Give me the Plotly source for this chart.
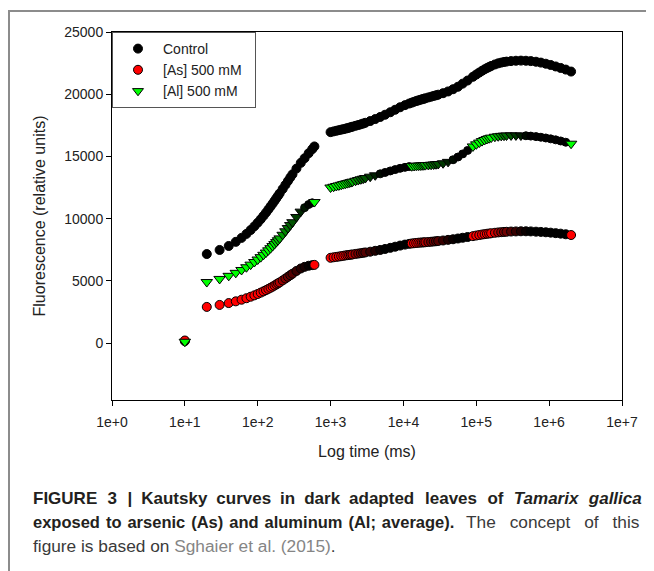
import math
import plotly.graph_objects as go

# ---------------- data ----------------
TIME_EARLY = [10, 20, 30, 40, 50, 60, 70, 80, 90, 100, 110, 120, 130, 140, 150, 160, 170, 180, 190, 200,
              220, 240, 260, 280, 300, 340, 390, 440, 500, 560, 600]
TIME_LATE = [1000, 1100, 1200, 1300, 1400, 1500, 1600, 1700, 1800, 1900, 2000, 2200, 2400, 2600, 2800, 3000,
             3500, 4100, 4800, 5600, 6600, 7700, 9000, 10500, 12000,
             13000, 14000, 15000, 16000, 17000, 18000, 19000, 20000, 22000, 24000, 26000, 28000, 30000,
             35000, 41000, 48000, 56000, 65000, 76000,
             90000, 100000, 110000, 120000, 130000, 140000, 150000, 160000, 180000, 200000, 220000, 240000, 260000,
             300000, 350000, 410000, 480000, 560000, 660000, 770000, 900000, 1050000, 1230000, 1440000, 1690000, 2000000]

CONTROL_EARLY = [150, 7150, 7480, 7800, 8130, 8450, 8770, 9080, 9380, 9670, 9950, 10220, 10480, 10730, 10970,
                 11200, 11420, 11630, 11830, 12020, 12380, 12710, 13020, 13300, 13560, 14020, 14480, 14850,
                 15250, 15580, 15800]
CONTROL_LATE = [16950, 17010, 17060, 17110, 17150, 17190, 17230, 17270, 17310, 17350, 17390, 17460, 17520, 17580,
                17640, 17700, 17840, 18000, 18170, 18350, 18550, 18750, 18950, 19120, 19250,
                19320, 19390, 19450, 19500, 19550, 19590, 19630, 19670, 19740, 19800, 19860, 19910, 19960,
                20080, 20220, 20400, 20600, 20850, 21100,
                21400, 21580, 21740, 21880, 22000, 22100, 22190, 22270, 22390, 22480, 22540, 22590, 22620,
                22660, 22690, 22700, 22690, 22660, 22610, 22540, 22450, 22350, 22230, 22110, 21980, 21820]

AS_EARLY = [200, 2900, 3060, 3210, 3350, 3480, 3600, 3720, 3830, 3940, 4050, 4150, 4250, 4350, 4440,
            4530, 4620, 4710, 4790, 4870, 5030, 5180, 5320, 5450, 5570, 5790, 5990, 6120, 6210, 6260, 6280]
AS_LATE = [6850, 6890, 6920, 6950, 6980, 7010, 7040, 7060, 7080, 7100, 7120, 7160, 7190, 7220, 7250, 7280,
           7340, 7410, 7480, 7560, 7650, 7740, 7830, 7910, 7970,
           8000, 8020, 8040, 8060, 8070, 8080, 8090, 8100, 8120, 8140, 8160, 8180, 8200,
           8240, 8290, 8340, 8400, 8460, 8520,
           8590, 8640, 8680, 8720, 8750, 8780, 8800, 8820, 8860, 8890, 8910, 8930, 8940,
           8960, 8970, 8980, 8980, 8970, 8950, 8930, 8900, 8870, 8830, 8790, 8740, 8680]

AL_EARLY = [100, 4900, 5150, 5400, 5640, 5870, 6090, 6300, 6510, 6710, 6900, 7090, 7270, 7450, 7620,
            7790, 7950, 8110, 8260, 8410, 8700, 8980, 9240, 9480, 9710, 10130, 10560, 10880, 11130, 11270, 11330]
AL_LATE = [12500, 12560, 12620, 12670, 12720, 12770, 12810, 12850, 12890, 12930, 12970, 13040, 13100, 13160,
           13210, 13260, 13370, 13480, 13600, 13710, 13830, 13940, 14040, 14120, 14180,
           14210, 14230, 14250, 14260, 14270, 14280, 14290, 14300, 14310, 14330, 14350, 14370, 14390,
           14450, 14560, 14730, 14950, 15200, 15480,
           15800, 15970, 16110, 16230, 16320, 16400, 16460, 16510, 16580, 16620, 16650, 16670, 16680,
           16690, 16690, 16680, 16660, 16630, 16590, 16540, 16480, 16410, 16330, 16240, 16140, 16020]

SERIES = ["Control", "[As] 500 mM", "[Al] 500 mM"]
X_TICKS = [1, 10, 100, 1000, 10000, 100000, 1000000, 10000000]
X_TICK_LABELS = ["1e+0", "1e+1", "1e+2", "1e+3", "1e+4", "1e+5", "1e+6", "1e+7"]
Y_TICKS = [0, 5000, 10000, 15000, 20000, 25000]

# ---------------- styling helpers ----------------
PX_PER_DECADE = 510 / 7.0


def overlap_factor(t):
    """How much of a marker's fill stays visible under the next (densely sampled) marker."""
    step = 10 if t < 1000 else 100 if t < 13000 else 1000 if t < 90000 else 10000
    s = PX_PER_DECADE * step / (t * math.log(10))
    return min(1.0, max(0.0, (s - 0.6) / 1.4))


def marker_style(times_segments, base_rgb, symbol, size):
    cols, syms, sizes = [], [], []
    for seg in times_segments:
        for i, t in enumerate(seg):
            f = 1.0 if i == len(seg) - 1 else overlap_factor(t)
            r, g, b = (int(round(c * f)) for c in base_rgb)
            cols.append(f"rgb({r},{g},{b})")
            # fully overlapped runs read as a solid dark band
            if f < 0.12 and symbol != "circle":
                syms.append("circle")
                sizes.append(size - 2)
            else:
                syms.append(symbol)
                sizes.append(size)
    return cols, syms, sizes


times_all = TIME_EARLY + TIME_LATE
fig = go.Figure()

LEGEND_PAD = "\u00a0\u00a0"
specs = [
    (SERIES[0], CONTROL_EARLY + CONTROL_LATE, (0, 0, 0), "circle", 9),
    (SERIES[1], AS_EARLY + AS_LATE, (255, 0, 0), "circle", 9),
    (SERIES[2], AL_EARLY + AL_LATE, (0, 255, 0), "triangle-down", 10),
]
for name, vals, rgb, sym, size in specs:
    cols, syms, sizes = marker_style([TIME_EARLY, TIME_LATE], rgb, sym, size)
    fig.add_trace(go.Scatter(
        x=times_all, y=vals, mode="markers", name=name + LEGEND_PAD,
        marker=dict(symbol=syms, size=sizes, color=cols, opacity=1,
                    line=dict(color="black", width=1)),
        hoverinfo="skip",
    ))

FONT = "Liberation Sans, Arial, sans-serif"

fig.update_xaxes(
    type="log", range=[0, 7], tickvals=X_TICKS, ticktext=X_TICK_LABELS,
    ticks="outside", ticklen=5, tickcolor="black", showline=True, linecolor="black",
    linewidth=1, mirror=True, showgrid=False, zeroline=False, ticklabelstandoff=4,
    tickfont=dict(family=FONT, size=14, color="#222"),
    title=dict(text="Log time (ms)", font=dict(family=FONT, size=16, color="#222"), standoff=17),
)
fig.update_yaxes(
    range=[-4582, 25000], tickvals=Y_TICKS, tickformat="d",
    ticks="outside", ticklen=5, tickcolor="black", showline=True, linecolor="black",
    linewidth=1, mirror=True, showgrid=False, zeroline=False,
    tickfont=dict(family=FONT, size=14, color="#222"),
    title=dict(text="Fluorescence (relative units)", font=dict(family=FONT, size=16, color="#222"), standoff=14),
)

# the page body adds an 8px offset; figure coordinates below are page coordinates minus 8
OFF = 8
W, H = 646, 563
L, R, T, B = 104, 32, 24, 171
pw, ph = W - L - R, H - T - B


def px(xp):
    return (xp - OFF - L) / pw


def py(yp):
    return (H - B - (yp - OFF)) / ph


# outer frame of the figure panel
fig.add_shape(type="line", xref="paper", yref="paper", x0=px(9), x1=px(9), y0=py(11), y1=py(580),
              line=dict(color="#8c8c8c", width=2))
fig.add_shape(type="line", xref="paper", yref="paper", x0=px(8), x1=px(660), y0=py(11), y1=py(11),
              line=dict(color="#8c8c8c", width=2))

GAP_W = "\u2005\u200a "   # widened gap (justified line)
GAP_N = "\u2005 "
GAP2 = "\u200a "
GAP3 = "\u00a0\u2005 "
DARK = "#231f20"
GREY = "#3a3a3a"
REG = 17.3

line1_left = ("<b>FIGURE" + GAP_W + "3" + GAP_W + "|" + GAP_N + "Kautsky" + GAP_N + "curves" + GAP_N
              + "in" + GAP_N + "dark" + GAP_N + "adapted</b>")
line1_right = "<b>" + GAP_W.join(["leaves", "of", "<i>Tamarix", "gallica</i>"]) + "</b>"

caption_parts = [
    # (text, x page px, anchor, y page px, size, colour)
    (line1_left, 31, "left", 498, 17, DARK),
    (line1_right, 644, "right", 498, 17, DARK),
    ("<b>" + GAP2.join(["exposed", "to", "arsenic", "(As)", "and", "aluminum", "(Al;", "average)."]) + "</b>",
     31, "left", 522, 16.5, DARK),
    (GAP3.join(["The", "concept", "of", "this"]), 642, "right", 522, REG, GREY),
    ("figure is based on <span style='color:#858585'>Sghaier et al. (2015)</span>.",
     31, "left", 546, REG, GREY),
]
for txt, xp, anchor, yp, size, col in caption_parts:
    fig.add_annotation(text=txt, xref="paper", yref="paper", x=px(xp), y=py(yp),
                       xanchor=anchor, yanchor="middle", showarrow=False,
                       font=dict(family=FONT, size=size, color=col), align="left")

fig.update_layout(
    width=W, height=H, margin=dict(l=L, r=R, t=T, b=B, autoexpand=False),
    paper_bgcolor="white", plot_bgcolor="white",
    showlegend=True,
    legend=dict(x=0, y=1, xanchor="left", yanchor="top", bgcolor="white",
                bordercolor="#555", borderwidth=1, font=dict(family=FONT, size=14, color="#222"),
                itemwidth=40),
    hovermode=False,
)

fig.write_html("out.html", config={"displayModeBar": False})
